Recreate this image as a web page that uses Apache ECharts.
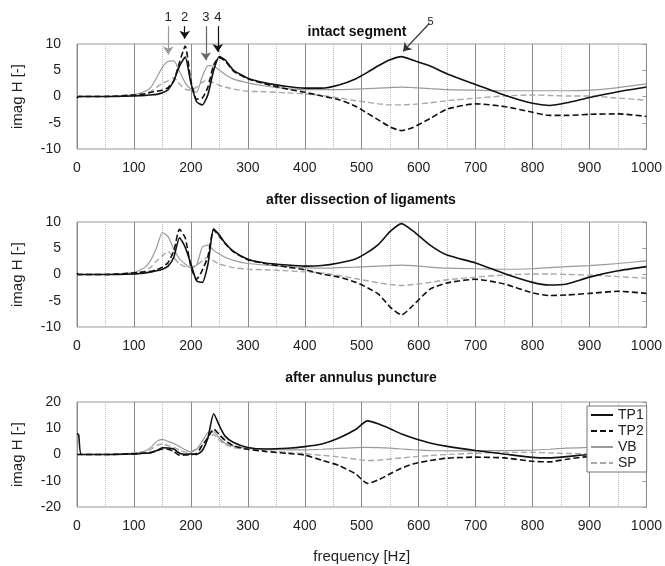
<!DOCTYPE html>
<html>
<head>
<meta charset="utf-8">
<script src="https://cdn.jsdelivr.net/npm/echarts@6/dist/echarts.min.js"></script>
<style>
	* { margin: 0; padding: 0; }
	body { background: #fff; }
	#chart { width: 665px; height: 566px; }
</style>
</head>
<body>
<div id="chart"></div>
<script>
	// frequency points [Hz], shared by every curve
	var freq = [0, 3, 8, 50, 100, 110, 120, 130, 140, 150, 160, 170, 180, 190, 200, 210, 220, 230, 240, 250, 260, 275, 300, 330, 370, 400,
		430, 460, 490, 510, 530, 550, 570, 590, 620, 650, 700, 750, 800, 830, 860, 900, 950, 1000];

	var panelTitles = ['intact segment', 'after dissection of ligaments', 'after annulus puncture'];
	var seriesNames = ['TP1', 'TP2', 'VB', 'SP'];
	var yRanges = [[-10, 10, 5], [-10, 10, 5], [-20, 20, 10]];
	var arrowLabels = ['1', '2', '3', '4', '5'];

	// intact segment
	var intactTP1 = [-0.3, 0, 0, 0, 0.1, 0.15, 0.2, 0.3, 0.4, 0.7, 1.3, 3.0, 5.8, 7.5, 2.6, -1.0, -1.6, 0.4, 5.0, 7.6, 7.0, 5.0, 3.5, 2.6, 1.9, 1.6,
		1.6, 2.2, 3.4, 4.6, 5.9, 7.0, 7.6, 6.9, 5.8, 4.3, 2.3, 0.3, -1.3, -1.7, -1.2, -0.2, 0.9, 1.8];
	var intactTP2 = [-0.3, 0, 0, 0, 0.3, 0.4, 0.5, 0.8, 1.0, 1.2, 1.7, 3.0, 6.5, 9.6, 3.0, -0.5, -0.3, 1.8, 6.0, 7.4, 6.8, 4.8, 3.4, 2.4, 1.4, 0.8,
		0.1, -0.6, -1.9, -3.2, -4.5, -5.8, -6.5, -5.9, -4.2, -2.4, -1.4, -1.9, -3.0, -3.6, -3.6, -3.4, -3.3, -3.8];
	var intactVB = [0, 0, 0, 0, 0.3, 0.6, 1.0, 1.8, 3.6, 5.6, 6.7, 6.8, 4.8, 2.6, 1.4, 0.8, 3.8, 5.9, 5.8, 5.0, 4.2, 3.3, 2.6, 2.0, 1.5, 1.3,
		1.3, 1.3, 1.4, 1.5, 1.6, 1.7, 1.8, 1.7, 1.5, 1.3, 1.2, 1.1, 1.1, 1.1, 1.1, 1.2, 1.7, 2.4];
	var intactSP = [0, 0, 0, 0, 0.2, 0.3, 0.5, 1.0, 1.8, 2.5, 3.0, 3.6, 2.4, 1.4, 1.2, 1.8, 2.7, 3.1, 2.6, 2.1, 1.8, 1.4, 1.0, 0.9, 0.7, 0.5,
		0.2, -0.3, -0.8, -1.1, -1.4, -1.6, -1.6, -1.5, -1.2, -0.8, -0.3, 0.1, 0.3, 0.2, 0.1, 0.1, -0.3, -0.7];

	// after dissection of ligaments
	var ligTP1 = [0.3, 0, 0, 0, 0.1, 0.2, 0.3, 0.5, 0.7, 1.0, 1.6, 3.3, 7.0, 5.2, 2.0, -1.2, -1.5, 2.0, 8.7, 7.5, 6.0, 4.4, 2.9, 2.2, 1.8, 1.6,
		1.7, 2.2, 3.0, 4.2, 5.8, 8.2, 9.7, 8.3, 5.6, 3.7, 2.2, 0.2, -1.5, -2.0, -1.8, -0.5, 0.7, 1.5];
	var ligTP2 = [0, 0, 0, 0, 0.3, 0.4, 0.5, 0.6, 0.9, 1.4, 2.3, 4.5, 8.6, 7.0, 1.5, -0.9, 0.8, 3.5, 8.5, 7.3, 5.9, 4.3, 2.8, 2.1, 1.4, 0.9,
		0.1, -0.5, -1.5, -2.5, -3.8, -6.2, -7.7, -5.9, -2.8, -1.6, -0.9, -1.8, -3.5, -4.0, -3.9, -3.6, -3.2, -3.6];
	var ligVB = [0, 0, 0, 0, 0.4, 0.8, 1.4, 2.8, 5.2, 8.0, 7.2, 4.8, 3.0, 2.0, 1.2, 1.8, 5.2, 5.6, 4.6, 3.9, 3.3, 2.7, 2.1, 1.8, 1.5, 1.3,
		1.2, 1.3, 1.4, 1.5, 1.6, 1.7, 1.8, 1.7, 1.4, 1.2, 1.1, 1.0, 1.1, 1.3, 1.5, 1.7, 2.1, 2.6];
	var ligSP = [0, 0, 0, 0, 0.2, 0.4, 0.7, 1.4, 2.6, 3.6, 4.4, 3.2, 2.0, 1.5, 1.4, 1.8, 2.6, 3.3, 2.6, 2.0, 1.7, 1.3, 1.0, 0.9, 0.7, 0.5,
		0.3, -0.2, -0.8, -1.2, -1.6, -1.9, -2.1, -1.9, -1.5, -1.0, -0.5, -0.1, 0.1, 0.1, 0, -0.1, -0.4, -0.7];

	// after annulus puncture
	var punctTP1 = [8, 7.5, 0, 0, 0.2, 0.3, 0.5, 0.7, 1.5, 2.6, 2.5, 2.1, 0.5, 0.1, 0.2, 0, 1.5, 6.5, 15.5, 11, 7.0, 4.6, 2.7, 2.1, 2.4, 3.0,
		4.0, 6.3, 9.6, 12.8, 11.6, 9.8, 7.8, 6.3, 4.4, 3.1, 1.5, 0.2, -1.1, -1.3, -0.8, 0, 0.3, 0.5];
	var punctTP2 = [0, 0, 0, 0, 0.3, 0.4, 0.6, 0.8, 1.4, 2.1, 2.0, 1.2, -0.3, -0.2, 0, 0.3, 3.5, 6.5, 9.7, 7.5, 5.4, 3.3, 2.0, 1.2, 0.4, -0.2,
		-2.2, -4.2, -7.5, -11, -9.6, -7.3, -5.2, -3.6, -2.3, -1.4, -1.0, -1.3, -2.6, -2.8, -1.8, -0.8, -0.8, -1.0];
	var punctVB = [0, 0, 0, 0, 0.5, 0.8, 1.4, 2.8, 5.0, 5.8, 5.0, 4.2, 3.0, 1.8, 0.9, 2.0, 5.0, 8.4, 8.6, 6.2, 4.3, 3.2, 2.4, 2.1, 1.8, 1.8,
		2.0, 2.3, 2.6, 2.7, 2.6, 2.4, 2.1, 1.8, 1.5, 1.4, 1.4, 1.5, 1.7, 2.0, 2.4, 2.7, 3.0, 3.2];
	var punctSP = [0, 0, 0, 0, 0.3, 0.6, 1.0, 2.0, 3.5, 4.0, 3.4, 2.7, 1.7, 0.9, 1.2, 2.0, 3.5, 6.0, 7.6, 5.4, 3.8, 2.6, 2.0, 1.5, 0.8, 0.3,
		-0.3, -0.9, -1.8, -2.3, -2.2, -1.7, -1.3, -0.9, -0.4, 0, 0.5, 0.8, 0.8, 0.6, 0.4, 0.2, -0.1, -0.4];

	// numbered arrows in the first panel, in that panel's units (freq, imag H)
	var arrowFrom = [[160, 13.4], [189, 13.4], [226, 13.4], [247, 13.4], [618, 13.9]];
	var arrowTo = [[160, 8.0], [189, 11.0], [226, 6.9], [247, 8.5], [572, 8.6]];
	var arrowColors = ['#999', '#111', '#666', '#111', '#333'];

	var panels = [
		[intactTP1, intactTP2, intactVB, intactSP],
		[ligTP1, ligTP2, ligVB, ligSP],
		[punctTP1, punctTP2, punctVB, punctSP]
	];

	var styles = [
		{ color: '#111', width: 1.6, type: 'solid' },
		{ color: '#111', width: 1.6, type: [6, 3] },
		{ color: '#9a9a9a', width: 1.2, type: 'solid' },
		{ color: '#a8a8a8', width: 1.4, type: [6, 3] }
	];

	var gridTops = [44, 222, 402];
	var titleTops = [20, 188, 366];
	var titleLefts = [352, 356, 356];
	var charts = echarts.init(document.getElementById('chart'));

	var grids = [], xAxes = [], yAxes = [], series = [], titles = [];
	var font = 'Liberation Sans, Arial, sans-serif';

	gridTops.forEach(function(top, p) {
		grids.push({
			left: 77,
			top: top,
			width: 570,
			height: 105,
			show: true,
			borderColor: '#999',
			borderWidth: 1
		});
		titles.push({
			text: panelTitles[p],
			left: titleLefts[p],
			top: titleTops[p],
			textAlign: 'center',
			textStyle: { fontFamily: font, fontSize: 14, fontWeight: 'bold', color: '#111' }
		});
		xAxes.push({
			gridIndex: p,
			type: 'value',
			min: 0,
			max: 1000,
			interval: 100,
			axisLine: { show: false },
			axisTick: { show: false },
			axisLabel: {
				fontFamily: font, fontSize: 14, color: '#222', margin: 12,
				formatter: function(v) { return String(v); }
			},
			splitLine: { show: true, lineStyle: { color: '#8a8a8a', width: 1 } },
			minorTick: { show: false, splitNumber: 2 },
			minorSplitLine: { show: true, lineStyle: { color: '#bbb', type: 'dotted', width: 1 } },
			name: p === 2 ? 'frequency [Hz]' : '',
			nameLocation: 'middle',
			nameGap: 42,
			nameTextStyle: { fontFamily: font, fontSize: 15, color: '#222' }
		});
		yAxes.push({
			gridIndex: p,
			type: 'value',
			min: yRanges[p][0],
			max: yRanges[p][1],
			interval: yRanges[p][2],
			axisLine: { show: false },
			axisTick: { show: false },
			splitLine: { show: false },
			axisLabel: { fontFamily: font, fontSize: 14, color: '#222', margin: 16 },
			name: 'imag H [-]',
			nameLocation: 'middle',
			nameGap: 52,
			nameTextStyle: { fontFamily: font, fontSize: 15, color: '#222' }
		});
		// small inner ticks on the right border
		yAxes.push({
			gridIndex: p,
			type: 'value',
			position: 'right',
			min: yRanges[p][0],
			max: yRanges[p][1],
			interval: yRanges[p][2],
			axisLine: { show: false },
			axisTick: { show: true, inside: true, length: 4, lineStyle: { color: '#999' } },
			axisLabel: { show: false },
			splitLine: { show: false }
		});

		panels[p].forEach(function(values, s) {
			series.push({
				name: seriesNames[s],
				type: 'line',
				xAxisIndex: p,
				yAxisIndex: p * 2,
				showSymbol: false,
				symbol: 'none',
				smooth: 0.2,
				lineStyle: styles[s],
				itemStyle: { color: styles[s].color },
				z: 10 - s,
				data: freq.map(function(f, i) { return [f, values[i]]; })
			});
		});
	});

	// invisible overlay over panel 1, extended upward so the arrows can start above the frame
	// (same scale as panel 1: 147px for 28 units = 105px for 20 units)
	grids.push({ left: 77, top: 2, width: 570, height: 147, show: false });
	xAxes.push({ gridIndex: 3, type: 'value', min: 0, max: 1000, show: false });
	yAxes.push({ gridIndex: 3, type: 'value', min: -10, max: 18, show: false });
	series.push({
		name: 'arrows',
		type: 'line',
		xAxisIndex: 3,
		yAxisIndex: yAxes.length - 1,
		symbol: 'none',
		lineStyle: { opacity: 0 },
		data: [],
		markLine: {
			silent: true,
			symbol: ['none', 'arrow'],
			symbolSize: 8,
			data: arrowFrom.map(function(a, i) {
				return [{
					coord: a,
					lineStyle: { color: arrowColors[i], width: 1.2, type: 'solid' },
					label: {
						show: true,
						position: 'start',
						formatter: arrowLabels[i],
						fontFamily: font,
						fontSize: i === 4 ? 11 : 13,
						color: '#222',
						distance: 2
					}
				}, { coord: arrowTo[i] }];
			})
		}
	});

	charts.setOption({
		animation: false,
		backgroundColor: '#fff',
		title: titles,
		grid: grids,
		xAxis: xAxes,
		yAxis: yAxes,
		legend: {
			data: seriesNames,
			orient: 'vertical',
			left: 587,
			top: 406,
			z: 30,
			itemWidth: 22,
			itemHeight: 12,
			itemGap: 2,
			padding: [2, 3, 2, 3],
			backgroundColor: '#fff',
			borderColor: '#777',
			borderWidth: 1,
			borderRadius: 0,
			itemStyle: { opacity: 0 },
			textStyle: { fontFamily: font, fontSize: 14, color: '#222' }
		},
		series: series
	});
</script>
</body>
</html>
